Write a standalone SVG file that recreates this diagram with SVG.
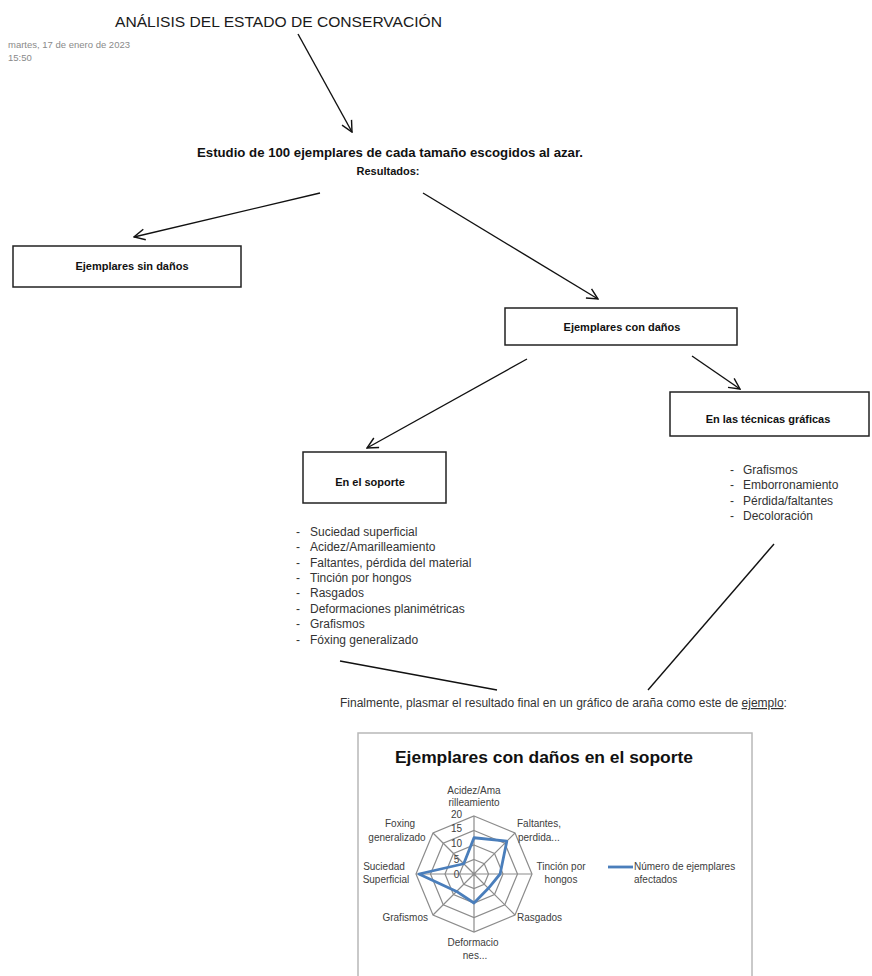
<svg xmlns="http://www.w3.org/2000/svg" width="872" height="976" viewBox="0 0 872 976">
<style>
text{font-family:"Liberation Sans",Arial,sans-serif}
.title{font-size:15.5px;fill:#1a1a1a}
.date{font-size:9.5px;fill:#8a8a8a}
.head{font-size:13px;font-weight:bold;fill:#111}
.lbl{font-size:11px;font-weight:bold;fill:#111}
.box{fill:#fff;stroke:#222;stroke-width:1.5}
.li{font-size:12px;fill:#333}
.fin{font-size:12px;fill:#333}
.conn{stroke:#111;stroke-width:1.4;fill:none}
.ctitle{font-size:17px;font-weight:bold;fill:#111}
.ax{font-size:10px;fill:#404040}
.grid{fill:none;stroke:#8c8c8c;stroke-width:1.2}
.data{fill:none;stroke:#4A7EBB;stroke-width:2.8;stroke-linejoin:round}
</style>
<defs>
<marker id="ah" viewBox="0 0 12 12" refX="11" refY="6" markerWidth="13" markerHeight="13" markerUnits="userSpaceOnUse" orient="auto">
<path d="M1,1 L11,6 L1,11" fill="none" stroke="#111" stroke-width="1.3"/>
</marker>
</defs>
<rect width="872" height="976" fill="#fff"/>

<g id="title"><text class="title" x="115" y="27" textLength="327" lengthAdjust="spacingAndGlyphs">ANÁLISIS DEL ESTADO DE CONSERVACIÓN</text></g>
<g id="date">
<text class="date" x="8" y="48">martes, 17 de enero de 2023</text>
<text class="date" x="8" y="61">15:50</text>
</g>

<g id="estudio">
<text class="head" x="390" y="157" text-anchor="middle" textLength="386" lengthAdjust="spacingAndGlyphs">Estudio de 100 ejemplares de cada tamaño escogidos al azar.</text>
<text class="lbl" x="388" y="175" text-anchor="middle" font-size="12">Resultados:</text>
</g>

<g id="connectors">
<line class="conn" x1="298" y1="34" x2="352" y2="132" marker-end="url(#ah)"/>
<line class="conn" x1="320" y1="193" x2="134" y2="237" marker-end="url(#ah)"/>
<line class="conn" x1="423" y1="193" x2="598" y2="299" marker-end="url(#ah)"/>
<line class="conn" x1="527" y1="359" x2="367" y2="448" marker-end="url(#ah)"/>
<line class="conn" x1="692" y1="356" x2="740" y2="389" marker-end="url(#ah)"/>
<line class="conn" x1="774" y1="544" x2="648" y2="690"/>
<line class="conn" x1="340" y1="661" x2="497" y2="690"/>
</g>

<g id="sin-danos">
<rect class="box" x="13" y="246" width="228" height="41"/>
<text class="lbl" x="132" y="270" text-anchor="middle">Ejemplares sin daños</text>
</g>
<g id="con-danos">
<rect class="box" x="505" y="308" width="232" height="37"/>
<text class="lbl" x="622" y="331" text-anchor="middle">Ejemplares con daños</text>
</g>
<g id="tecnicas">
<rect class="box" x="670" y="392" width="199" height="44"/>
<text class="lbl" x="768" y="423" text-anchor="middle">En las técnicas gráficas</text>
</g>
<g id="soporte">
<rect class="box" x="303" y="452" width="143" height="51"/>
<text class="lbl" x="370" y="486" text-anchor="middle">En el soporte</text>
</g>

<g id="lista-soporte">
<text class="li" x="296" y="536">-</text><text class="li" x="310" y="536">Suciedad superficial</text>
<text class="li" x="296" y="551.4">-</text><text class="li" x="310" y="551.4">Acidez/Amarilleamiento</text>
<text class="li" x="296" y="566.7">-</text><text class="li" x="310" y="566.7">Faltantes, pérdida del material</text>
<text class="li" x="296" y="582.1">-</text><text class="li" x="310" y="582.1">Tinción por hongos</text>
<text class="li" x="296" y="597.4">-</text><text class="li" x="310" y="597.4">Rasgados</text>
<text class="li" x="296" y="612.8">-</text><text class="li" x="310" y="612.8">Deformaciones planimétricas</text>
<text class="li" x="296" y="628.1">-</text><text class="li" x="310" y="628.1">Grafismos</text>
<text class="li" x="296" y="643.5">-</text><text class="li" x="310" y="643.5">Fóxing generalizado</text>
</g>

<g id="lista-tecnicas">
<text class="li" x="730" y="474">-</text><text class="li" x="743" y="474">Grafismos</text>
<text class="li" x="730" y="489">-</text><text class="li" x="743" y="489">Emborronamiento</text>
<text class="li" x="730" y="504.5">-</text><text class="li" x="743" y="504.5">Pérdida/faltantes</text>
<text class="li" x="730" y="520">-</text><text class="li" x="743" y="520">Decoloración</text>
</g>

<g id="final">
<text class="fin" x="340" y="707">Finalmente, plasmar el resultado final en un gráfico de araña como este de <tspan text-decoration="underline">ejemplo</tspan>:</text>
</g>

<g id="chart">
<rect x="358" y="733" width="394" height="250" fill="#fff" stroke="#b8b8b8" stroke-width="1.5"/>
<text class="ctitle" x="395" y="763" textLength="298" lengthAdjust="spacingAndGlyphs">Ejemplares con daños en el soporte</text>
<g class="grid">
<polygon points="474,816 515.01,832.99 532,874 515.01,915.01 474,932 432.99,915.01 416,874 432.99,832.99"/>
<polygon points="474,830.5 504.76,843.24 517.5,874 504.76,904.76 474,917.5 443.24,904.76 430.5,874 443.24,843.24"/>
<polygon points="474,845 494.51,853.49 503,874 494.51,894.51 474,903 453.49,894.51 445,874 453.49,853.49"/>
<polygon points="474,859.5 484.25,863.75 488.5,874 484.25,884.25 474,888.5 463.75,884.25 459.5,874 463.75,863.75"/>
<path d="M474,874 L474,816 M474,874 L515.01,832.99 M474,874 L532,874 M474,874 L515.01,915.01 M474,874 L474,932 M474,874 L432.99,915.01 M474,874 L416,874 M474,874 L432.99,832.99"/>
</g>
<polygon class="data" points="474,837.75 506.81,841.19 500.1,874 488.35,888.35 474,903 456.57,891.43 418.9,874 463.75,863.75"/>
<g class="ax" text-anchor="middle">
<text x="456.5" y="818">20</text>
<text x="456.5" y="832">15</text>
<text x="456.5" y="847">10</text>
<text x="456.5" y="862.5">5</text>
<text x="456.5" y="877.5">0</text>
<text x="474" y="794">Acidez/Ama</text>
<text x="474" y="806">rilleamiento</text>
<text x="561" y="870">Tinción por</text>
<text x="561" y="883">hongos</text>
<text x="473" y="946">Deformacio</text>
<text x="475" y="959">nes...</text>
<text x="384" y="870">Suciedad</text>
<text x="386" y="883">Superficial</text>
<text x="400" y="827">Foxing</text>
<text x="397" y="841">generalizado</text>
</g>
<g class="ax">
<text x="517" y="827">Faltantes,</text>
<text x="518" y="841">perdida...</text>
<text x="517" y="921">Rasgados</text>
<text x="428" y="921" text-anchor="end">Grafismos</text>
<text x="634" y="870">Número de ejemplares</text>
<text x="634" y="883">afectados</text>
</g>
<line x1="608" y1="867" x2="633" y2="867" stroke="#4A7EBB" stroke-width="2.8"/>
</g>
</svg>
